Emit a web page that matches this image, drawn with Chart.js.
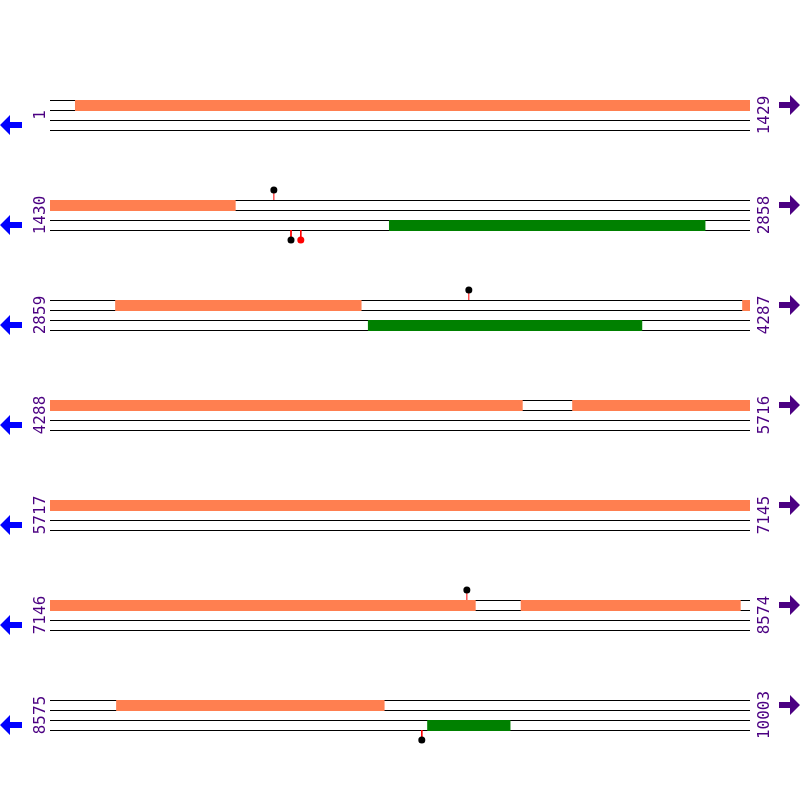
<!DOCTYPE html>
<html>
<head>
<meta charset="utf-8">
<script src="https://cdn.jsdelivr.net/npm/chart.js@4"></script>
<style>
  html, body { margin: 0; padding: 0; background: #fff; }
  #wrap { width: 800px; height: 800px; }
</style>
</head>
<body>
<div id="wrap"><canvas id="mapa" width="800" height="800"></canvas></div>
<script>
// Mapa linear de sequência: 7 linhas de 1429 bp
const rowLen = 1429;
const rowStarts = [1, 1430, 2859, 4288, 5717, 7146, 8575];
const rowEnds = [1429, 2858, 4287, 5716, 7145, 8574, 10003];

// Features (início, fim) em bp
const fwdFeatures = [[52, 1808], [2992, 3494], [4272, 5252], [5354, 8014], [8107, 8555], [8710, 9257]];
const revFeatures = [[2122, 2767], [3508, 4067], [9345, 9514]];

// Marcadores (posição, fita, cor do ponto)
const markPos = [1887, 1922, 1942, 3714, 7997, 9334];
const markStrand = ['+', '-', '-', '+', '+', '-'];
const markColor = ['#000000', '#000000', '#ff0000', '#000000', '#000000', '#000000'];

const rowTop = r => 100 + r * 100;
const datasets = [];

// linhas das fitas (desenhadas por baixo)
rowStarts.forEach((s, r) => {
  [0, 10, 20, 30].forEach(dy => {
    datasets.push({ type: 'line', order: 3, data: [{ x: 0, y: rowTop(r) + dy + 0.5 }, { x: rowLen, y: rowTop(r) + dy + 0.5 }],
      borderColor: '#000', borderWidth: 1, pointRadius: 0 });
  });
});

// divide features entre linhas
function addFeatures(list, dy, cor) {
  list.forEach(([a, b]) => {
    rowStarts.forEach((s, r) => {
      const e = s + rowLen;
      const lo = Math.max(a, s), hi = Math.min(b + 1, e);
      if (hi <= lo) return;
      const y = rowTop(r) + dy + 0.5;
      datasets.push({ type: 'line', order: 2, data: [{ x: lo - s, y }, { x: hi - s, y }],
        borderColor: cor, borderWidth: 11, borderCapStyle: 'butt', pointRadius: 0 });
    });
  });
}
addFeatures(fwdFeatures, 5, '#ff7f50');
addFeatures(revFeatures, 25, '#008000');

// marcadores tipo pirulito
markPos.forEach((p, i) => {
  const r = rowStarts.findIndex((s, k) => p >= s && p <= rowEnds[k]);
  const x = p - rowStarts[r];
  const y0 = markStrand[i] === '+' ? rowTop(r) : rowTop(r) + 30;
  const y1 = markStrand[i] === '+' ? y0 - 10 : y0 + 10;
  datasets.push({ type: 'line', order: 1, data: [{ x, y: y0 }, { x, y: y1 }], borderColor: '#ff0000', borderWidth: 1, pointRadius: 0 });
  datasets.push({ type: 'scatter', order: 0, data: [{ x, y: y1 }], pointRadius: 3.5, pointBackgroundColor: markColor[i], pointBorderWidth: 0 });
});

// rótulos e setas
const rotulos = {
  id: 'rotulos',
  afterDraw(chart) {
    const ctx = chart.ctx;
    const xs = chart.scales.x, ys = chart.scales.y;
    ctx.save();
    ctx.font = '16px "DejaVu Sans Mono"';
    ctx.textAlign = 'center';
    ctx.textBaseline = 'middle';
    rowStarts.forEach((s, r) => {
      const yc = ys.getPixelForValue(rowTop(r) + 15);
      ctx.fillStyle = '#4b0082';
      [[xs.getPixelForValue(0) - 9, s], [xs.getPixelForValue(rowLen) + 15, rowEnds[r]]].forEach(([x, t]) => {
        ctx.save();
        ctx.translate(x, yc);
        ctx.rotate(-Math.PI / 2);
        ctx.fillText(String(t), 0, 0);
        ctx.restore();
      });
      // seta esquerda (fita -)
      let y = ys.getPixelForValue(rowTop(r) + 25);
      ctx.fillStyle = '#0000ff';
      ctx.beginPath();
      ctx.moveTo(0, y); ctx.lineTo(10, y - 10); ctx.lineTo(10, y - 3); ctx.lineTo(22, y - 3);
      ctx.lineTo(22, y + 3); ctx.lineTo(10, y + 3); ctx.lineTo(10, y + 10); ctx.closePath(); ctx.fill();
      // seta direita (fita +)
      y = ys.getPixelForValue(rowTop(r) + 5);
      ctx.fillStyle = '#4b0082';
      ctx.beginPath();
      ctx.moveTo(800, y); ctx.lineTo(790, y - 10); ctx.lineTo(790, y - 3); ctx.lineTo(779, y - 3);
      ctx.lineTo(779, y + 3); ctx.lineTo(790, y + 3); ctx.lineTo(790, y + 10); ctx.closePath(); ctx.fill();
    });
    ctx.restore();
  }
};

new Chart(document.getElementById('mapa').getContext('2d'), {
  type: 'line',
  data: { datasets },
  options: {
    responsive: false,
    animation: false,
    layout: { padding: 0, autoPadding: false },
    plugins: { legend: { display: false }, tooltip: { enabled: false } },
    scales: {
      x: { type: 'linear', display: false, min: -50 * rowLen / 700, max: 750 * rowLen / 700 },
      y: { type: 'linear', display: false, min: 0, max: 800, reverse: true }
    }
  },
  plugins: [rotulos]
});
</script>
</body>
</html>
